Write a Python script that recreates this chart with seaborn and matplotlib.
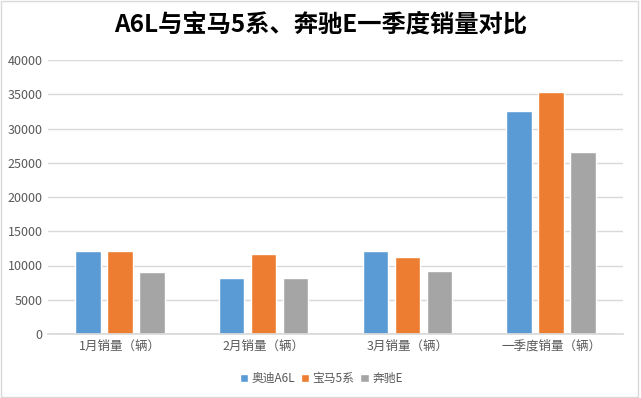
import pandas as pd
import matplotlib.pyplot as plt
import seaborn as sns
from matplotlib.patches import Rectangle

categories = ['1月销量（辆）', '2月销量（辆）', '3月销量（辆）', '一季度销量（辆）']
audi_a6l = [12150, 8200, 12150, 32600]
bmw_5 = [12150, 11700, 11250, 35400]
benz_e = [9050, 8200, 9200, 26600]
series_names = ['奥迪A6L', '宝马5系', '奔驰E']
colors = ['#5B9BD5', '#ED7D31', '#A5A5A5']


def main():
    rows = []
    for name, vals in zip(series_names, [audi_a6l, bmw_5, benz_e]):
        for cat, v in zip(categories, vals):
            rows.append({'cat': cat, 'series': name, 'value': v})
    df = pd.DataFrame(rows)

    sns.set_theme(style='white')
    plt.rcParams['font.family'] = ['Noto Sans CJK SC', 'DejaVu Sans']

    fig = plt.figure(figsize=(6.41, 3.98), dpi=100)
    ax = fig.add_axes([48 / 641, 1 - 334 / 398, 575 / 641, 274 / 398])

    sns.barplot(data=df, x='cat', y='value', hue='series', palette=colors,
                width=0.667, gap=0.2, ax=ax, saturation=1, legend=True)

    ax.set_ylim(0, 40000)
    ax.set_yticks(range(0, 40001, 5000))
    ax.set_xlim(-0.5, 3.5)
    ax.yaxis.grid(True, color='#D9D9D9', linewidth=1)
    ax.set_axisbelow(True)
    for s in ['top', 'right', 'left']:
        ax.spines[s].set_visible(False)
    ax.spines['bottom'].set_color('#D9D9D9')
    ax.tick_params(axis='both', colors='#595959', labelsize=9, length=0, pad=4)
    ax.set_xlabel('')
    ax.set_ylabel('')

    ax.legend(loc='upper center', bbox_to_anchor=(0.475, -0.1), ncol=3,
              frameon=False, fontsize=8.5, handlelength=0.7, handleheight=0.7,
              handletextpad=0.3, columnspacing=0.5, labelcolor='#595959')

    fig.text(0.5, 1 - 25 / 398, 'A6L与宝马5系、奔驰E一季度销量对比', ha='center',
             va='center', fontsize=17.5, fontweight='bold', color='black')

    fig.patches.append(Rectangle((0.002, 0.002), 0.993, 0.995, transform=fig.transFigure,
                                 fill=False, edgecolor='#D9D9D9', linewidth=1))

    fig.savefig('out.png', dpi=100)
    plt.close(fig)


if __name__ == '__main__':
    main()
